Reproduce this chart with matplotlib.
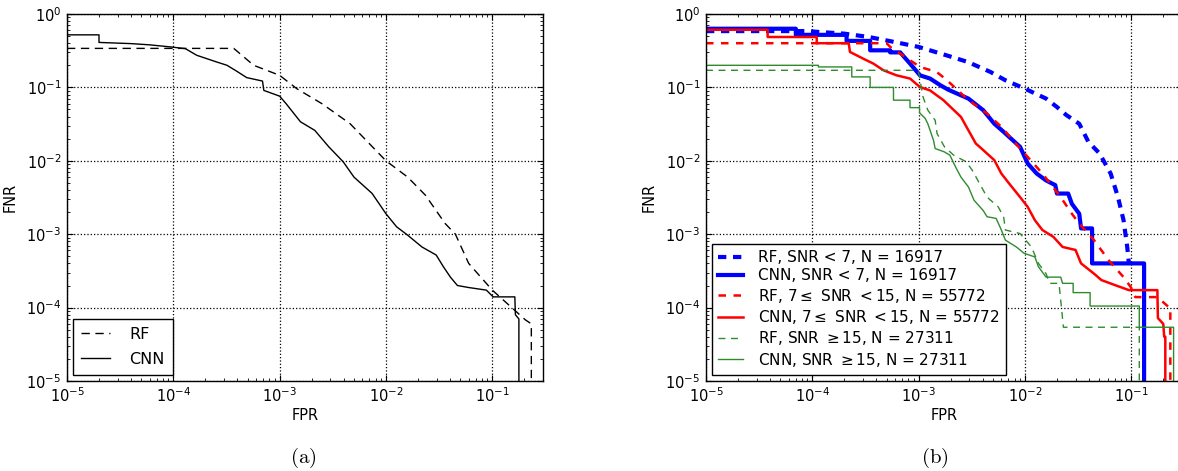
import matplotlib
matplotlib.use("Agg")
import matplotlib.pyplot as plt

# ---- panel (a): all SNRs pooled ----
rf_fpr = [1e-5, 3.7e-4, 5.7e-4, 1.0e-3, 1.45e-3, 2.5e-3, 4.6e-3, 1.0e-2, 1.6e-2,
          2.35e-2, 3.6e-2, 4.5e-2, 6.0e-2, 1.0e-1, 2.05e-1, 2.33e-1, 2.33e-1]
rf_fnr = [0.34, 0.34, 0.20, 0.146, 0.096, 0.060, 0.032, 1.0e-2, 6.0e-3,
          3.4e-3, 1.4e-3, 1.0e-3, 4.0e-4, 1.73e-4, 6.8e-5, 6.0e-5, 1e-6]

cnn_fpr = [1e-5, 2.0e-5, 2.0e-5, 4.0e-5, 6.0e-5, 9.6e-5, 1.3e-4, 1.66e-4, 2.44e-4,
           3.2e-4, 3.9e-4, 4.9e-4, 6.9e-4, 7.1e-4, 1.0e-3, 1.15e-3, 1.57e-3, 2.14e-3,
           2.9e-3, 3.96e-3, 5.0e-3, 7.4e-3, 1.0e-2, 1.26e-2, 1.6e-2, 2.18e-2, 2.97e-2,
           3.47e-2, 4.04e-2, 4.7e-2, 5.96e-2, 8.8e-2, 1.02e-1, 1.63e-1, 1.65e-1,
           1.78e-1, 1.78e-1]
cnn_fnr = [0.52, 0.52, 0.41, 0.395, 0.38, 0.355, 0.337, 0.274, 0.227,
           0.20, 0.168, 0.136, 0.122, 0.091, 0.076, 0.060, 0.034, 0.026,
           0.0155, 9.7e-3, 6.0e-3, 3.6e-3, 1.9e-3, 1.26e-3, 9.7e-4, 6.7e-4, 5.2e-4,
           3.6e-4, 2.6e-4, 2.0e-4, 1.88e-4, 1.73e-4, 1.4e-4, 1.4e-4, 8.0e-5,
           7.0e-5, 1e-6]

# ---- panel (b): split by SNR ----
rf_lo_fpr = [1e-5, 8.7e-5, 2.0e-4, 3.4e-4, 5.9e-4, 1.0e-3, 1.82e-3, 2.9e-3, 4.75e-3,
             6.55e-3, 1.0e-2, 1.58e-2, 2.0e-2, 2.45e-2, 3.24e-2, 3.95e-2, 5.03e-2,
             6.4e-2, 7.5e-2, 8.46e-2, 9.16e-2, 9.5e-2]
rf_lo_fnr = [0.585, 0.585, 0.54, 0.486, 0.416, 0.356, 0.274, 0.222, 0.162,
             0.125, 0.096, 0.0704, 0.054, 0.042, 0.032, 0.0181, 0.0126,
             6.7e-3, 3.2e-3, 1.55e-3, 6.7e-4, 4.0e-4]

cnn_lo_fpr = [1e-5, 7.0e-5, 7.0e-5, 2.1e-4, 2.1e-4, 3.5e-4, 3.5e-4, 5.4e-4, 5.4e-4,
              6.7e-4, 8.3e-4, 1.03e-3, 1.28e-3, 1.6e-3, 1.9e-3, 2.94e-3, 4.05e-3,
              5.15e-3, 6.3e-3, 7.7e-3, 9.0e-3, 1.06e-2, 1.29e-2, 1.58e-2, 1.93e-2,
              2.0e-2, 2.55e-2, 2.76e-2, 3.24e-2, 3.37e-2, 4.28e-2, 4.28e-2, 1.32e-1,
              1.32e-1]
cnn_lo_fnr = [0.63, 0.63, 0.52, 0.52, 0.43, 0.43, 0.32, 0.32, 0.30,
              0.30, 0.211, 0.146, 0.132, 0.107, 0.093, 0.0704, 0.0489,
              0.032, 0.0248, 0.019, 0.0155, 9.2e-3, 6.7e-3, 5.4e-3, 4.66e-3,
              3.58e-3, 3.58e-3, 2.6e-3, 1.9e-3, 1.2e-3, 1.2e-3, 4.0e-4, 4.0e-4,
              1e-6]

rf_mid_fpr = [1e-5, 5.0e-4, 5.4e-4, 1.03e-3, 1.48e-3, 1.84e-3, 2.94e-3, 4.4e-3, 6.0e-3,
              7.7e-3, 1.06e-2, 1.46e-2, 2.17e-2, 2.76e-2, 3.24e-2, 4.46e-2, 6.14e-2,
              8.46e-2, 9.9e-2, 1.09e-1, 1.76e-1, 2.28e-1, 2.33e-1, 2.33e-1]
rf_mid_fnr = [0.40, 0.40, 0.356, 0.19, 0.162, 0.126, 0.067, 0.044, 0.029,
              0.019, 0.0113, 6.7e-3, 3.2e-3, 1.9e-3, 1.4e-3, 8.3e-4, 4.4e-4,
              2.6e-4, 1.9e-4, 1.39e-4, 1.39e-4, 1.0e-4, 1.0e-4, 1e-6]

cnn_mid_fpr = [1e-5, 3.8e-5, 3.8e-5, 1.1e-4, 1.1e-4, 2.2e-4, 2.26e-4, 3.0e-4, 3.75e-4,
               4.67e-4, 6.2e-4, 8.3e-4, 1.03e-3, 1.28e-3, 1.71e-3, 2.5e-3, 2.94e-3,
               3.45e-3, 4.05e-3, 5.15e-3, 6.0e-3, 7.1e-3, 9.0e-3, 1.06e-2, 1.24e-2,
               1.46e-2, 1.85e-2, 2.26e-2, 2.99e-2, 3.37e-2, 4.46e-2, 5.24e-2, 7.2e-2,
               9.5e-2, 1.76e-1, 1.78e-1, 2.0e-1, 2.04e-1, 2.09e-1, 2.09e-1]
cnn_mid_fnr = [0.61, 0.61, 0.486, 0.486, 0.40, 0.40, 0.304, 0.247, 0.211,
               0.171, 0.146, 0.132, 0.101, 0.091, 0.067, 0.0396, 0.026,
               0.0172, 0.014, 0.0102, 6.7e-3, 4.9e-3, 3.2e-3, 2.36e-3, 1.55e-3,
               1.14e-3, 9.2e-4, 6.7e-4, 6.1e-4, 4.0e-4, 2.9e-4, 2.37e-4, 2.0e-4,
               1.73e-4, 1.73e-4, 7.2e-5, 6.0e-5, 4.0e-5, 4.0e-5, 1e-6]

rf_hi_fpr = [1e-5, 9.6e-4, 1.0e-3, 1.1e-3, 1.22e-3, 1.43e-3, 1.49e-3, 1.75e-3, 2.14e-3,
             2.8e-3, 3.2e-3, 3.9e-3, 4.4e-3, 5.6e-3, 6.3e-3, 6.55e-3, 9.0e-3,
             1.15e-2, 1.34e-2, 1.58e-2, 1.71e-2, 2.09e-2, 2.19e-2, 2.3e-2, 1.19e-1,
             1.19e-1]
rf_hi_fnr = [0.171, 0.171, 0.16, 0.074, 0.049, 0.0357, 0.0235, 0.0155, 0.0119,
             9.7e-3, 7.4e-3, 4.4e-3, 3.2e-3, 2.36e-3, 1.73e-3, 1.14e-3, 1.02e-3,
             6.7e-4, 4.0e-4, 2.9e-4, 2.14e-4, 2.14e-4, 1.1e-4, 5.4e-5, 5.4e-5,
             1e-6]

cnn_hi_fpr = [1e-5, 1.14e-4, 1.14e-4, 2.35e-4, 2.35e-4, 3.5e-4, 3.5e-4, 5.8e-4, 5.8e-4,
              8.3e-4, 8.3e-4, 1.02e-3, 1.02e-3, 1.15e-3, 1.22e-3, 1.38e-3, 1.43e-3,
              1.75e-3, 1.97e-3, 2.22e-3, 2.5e-3, 2.94e-3, 3.32e-3, 4.05e-3, 4.4e-3,
              5.36e-3, 6.0e-3, 6.55e-3, 8.3e-3, 9.8e-3, 1.24e-2, 1.34e-2, 1.58e-2,
              2.17e-2, 2.26e-2, 2.84e-2, 2.84e-2, 4.1e-2, 4.1e-2, 1.19e-1, 1.19e-1,
              2.5e-1, 2.5e-1]
cnn_hi_fnr = [0.20, 0.20, 0.19, 0.19, 0.139, 0.139, 0.10, 0.10, 0.067,
              0.067, 0.053, 0.053, 0.045, 0.038, 0.032, 0.019, 0.0147,
              0.0132, 0.0119, 8.3e-3, 6.0e-3, 4.4e-3, 2.9e-3, 2.1e-3, 1.73e-3,
              1.64e-3, 1.14e-3, 8.3e-4, 6.7e-4, 5.5e-4, 4.9e-4, 3.6e-4, 2.6e-4,
              2.6e-4, 2.14e-4, 2.14e-4, 1.6e-4, 1.6e-4, 1.05e-4, 1.05e-4, 5.4e-5,
              5.4e-5, 1e-6]

labels_b = ["RF, SNR < 7, N = 16917",
            "CNN, SNR < 7, N = 16917",
            r"RF, 7$\leq$ SNR $<$15, N = 55772",
            r"CNN, 7$\leq$ SNR $<$15, N = 55772",
            r"RF, SNR $\geq$15, N = 27311",
            r"CNN, SNR $\geq$15, N = 27311"]

plt.rcParams["mathtext.fontset"] = "dejavusans"


def style_axes(ax):
    ax.set_xscale("log")
    ax.set_yscale("log")
    ax.set_xlim(1e-5, 0.3)
    ax.set_ylim(1e-5, 1)
    ax.grid(True, which="major", linestyle=":", color="k", linewidth=0.9)
    ax.tick_params(which="both", direction="in", top=True, right=True,
                   labelsize=10.5, pad=4)
    ax.tick_params(which="major", length=4)
    ax.tick_params(which="minor", length=2)
    for sp in ax.spines.values():
        sp.set_linewidth(1.0)
    ax.set_xlabel("FPR", fontsize=10.5, labelpad=2)
    ax.set_ylabel("FNR", fontsize=10.5, labelpad=6)


W, H = 1178, 471
fig = plt.figure(figsize=(W / 100, H / 100), dpi=100)
ax_a = fig.add_axes([67 / W, 90 / H, 476 / W, 367 / H])
ax_b = fig.add_axes([706 / W, 90 / H, 476 / W, 367 / H])

# (a)
ax_a.plot(rf_fpr, rf_fnr, color="k", lw=1, dashes=(6, 4), label="RF")
ax_a.plot(cnn_fpr, cnn_fnr, color="k", lw=1, label="CNN")
style_axes(ax_a)
leg = ax_a.legend(loc="lower left", fontsize=11.5, frameon=True, fancybox=False,
                  edgecolor="k", framealpha=1, handlelength=1.8, handletextpad=1.2,
                  labelspacing=0.6, borderpad=0.5, borderaxespad=0.4)
leg.get_frame().set_linewidth(1.0)

# (b)
ax_b.plot(rf_lo_fpr, rf_lo_fnr, color="b", lw=3, dashes=(2, 1.6), label=labels_b[0])
ax_b.plot(cnn_lo_fpr, cnn_lo_fnr, color="b", lw=3, label=labels_b[1])
ax_b.plot(rf_mid_fpr, rf_mid_fnr, color="r", lw=1.8, dashes=(3, 3), label=labels_b[2])
ax_b.plot(cnn_mid_fpr, cnn_mid_fnr, color="r", lw=1.8, label=labels_b[3])
ax_b.plot(rf_hi_fpr, rf_hi_fnr, color="#2e8b2e", lw=1, dashes=(5, 4), label=labels_b[4])
ax_b.plot(cnn_hi_fpr, cnn_hi_fnr, color="#2e8b2e", lw=1, label=labels_b[5])
style_axes(ax_b)
leg = ax_b.legend(loc="lower left", fontsize=11, frameon=True, fancybox=False,
                  edgecolor="k", framealpha=1, handlelength=1.6, handletextpad=1.0,
                  labelspacing=0.22, borderpad=0.4, borderaxespad=0.4)
leg.get_frame().set_linewidth(1.0)

fig.text(303 / W, 1 - 458 / H, r"$\mathrm{(a)}$", ha="center", va="center",
         fontsize=15, math_fontfamily="cm")
fig.text(935 / W, 1 - 458 / H, r"$\mathrm{(b)}$", ha="center", va="center",
         fontsize=15, math_fontfamily="cm")

fig.savefig("out.png", dpi=100)
